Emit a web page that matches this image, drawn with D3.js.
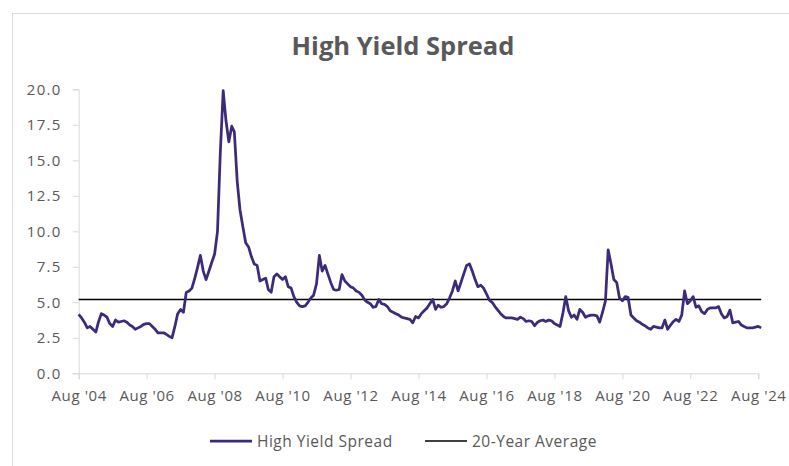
<!DOCTYPE html>
<html>
<head>
<meta charset="utf-8">
<script src="https://cdn.jsdelivr.net/npm/d3@7"></script>
<style>
  html, body { margin: 0; padding: 0; background: #fff; }
  svg { display: block; }
</style>
</head>
<body>
<svg id="chart" width="789" height="466"></svg>
<script>
// ---- DATA ----
const startMonth = "2004-08";   // first observation (monthly)
const spreadValues = [
  4.15, 3.9, 3.6, 3.2, 3.3, 3.1, 2.9, 3.6, 4.2, 4.1, 3.95, 3.5,
  3.3, 3.75, 3.6, 3.65, 3.7, 3.6, 3.4, 3.3, 3.1, 3.2, 3.3, 3.45,
  3.5, 3.5, 3.3, 3.1, 2.85, 2.85, 2.85, 2.75, 2.6, 2.5, 3.3, 4.2,
  4.5, 4.3, 5.7, 5.8, 6.0, 6.7, 7.5, 8.3, 7.2, 6.6, 7.2, 7.8,
  8.4, 10.0, 15.5, 19.9, 17.8, 16.3, 17.4, 17.0, 13.5, 11.5, 10.3, 9.2,
  8.9, 8.2, 7.7, 7.6, 6.5, 6.6, 6.7, 5.9, 5.7, 6.8, 7.0, 6.8,
  6.6, 6.8, 6.1, 6.0, 5.4, 5.0, 4.75, 4.7, 4.75, 5.0, 5.3, 5.5,
  6.3, 8.3, 7.2, 7.6, 7.0, 6.4, 5.9, 5.85, 5.9, 6.95, 6.5, 6.3,
  6.1, 6.0, 5.8, 5.7, 5.5, 5.15, 5.0, 4.9, 4.65, 4.7, 5.2, 4.9,
  4.85, 4.7, 4.4, 4.3, 4.2, 4.1, 3.95, 3.9, 3.85, 3.8, 3.56, 4.0,
  3.9, 4.2, 4.4, 4.6, 4.9, 5.2, 4.5, 4.8, 4.65, 4.7, 4.9, 5.3,
  5.8, 6.5, 5.8, 6.4, 7.0, 7.6, 7.7, 7.2, 6.6, 6.1, 6.2, 6.0,
  5.6, 5.15, 5.0, 4.7, 4.45, 4.2, 4.0, 3.9, 3.9, 3.9, 3.85, 3.8,
  3.95, 3.85, 3.65, 3.7, 3.65, 3.35, 3.6, 3.7, 3.75, 3.65, 3.75, 3.7,
  3.5, 3.4, 3.3, 4.25, 5.4, 4.4, 3.95, 4.1, 3.8, 4.5, 4.3, 3.95,
  4.05, 4.1, 4.1, 4.05, 3.6, 4.3, 5.1, 8.7, 7.7, 6.6, 6.4, 5.3,
  5.1, 5.4, 5.35, 4.1, 3.9, 3.7, 3.6, 3.45, 3.35, 3.2, 3.1, 3.3,
  3.25, 3.2, 3.2, 3.75, 3.1, 3.4, 3.65, 3.8, 3.65, 4.1, 5.8, 4.9,
  5.1, 5.4, 4.65, 4.75, 4.35, 4.2, 4.5, 4.6, 4.6, 4.6, 4.7, 4.2,
  3.9, 4.0, 4.45, 3.55, 3.6, 3.65, 3.4, 3.3, 3.2, 3.2, 3.2, 3.25,
  3.3, 3.2
];
const averageValue = 5.2;
const xTickLabels = ["Aug '04", "Aug '06", "Aug '08", "Aug '10", "Aug '12", "Aug '14",
                     "Aug '16", "Aug '18", "Aug '20", "Aug '22", "Aug '24"];
const yTickValues = [0, 2.5, 5, 7.5, 10, 12.5, 15, 17.5, 20];
const seriesNames = ["High Yield Spread", "20-Year Average"];
const chartTitle = "High Yield Spread";

// ---- BUILD ----
const parseMonth = d3.utcParse("%Y-%m");
const t0 = parseMonth(startMonth);
const data = spreadValues.map((v, i) => ({ date: d3.utcMonth.offset(t0, i), value: v }));
const xTickDates = xTickLabels.map((_, i) => d3.utcYear.offset(t0, i * 2));

const svg = d3.select("#chart");
const plotLeft = 78.7, plotRight = 758.3, plotTop = 89.3, plotBottom = 373.3;

const x = d3.scaleUtc().domain([xTickDates[0], xTickDates[xTickDates.length - 1]]).range([plotLeft, plotRight]);
const y = d3.scaleLinear().domain([0, 20]).range([plotBottom, plotTop]);

const textColor = "#595959";
const axisColor = "#d9d9d9";
const lineColor = "#3d2a78";
const fontFam = "'Open Sans', 'Noto Sans', sans-serif";

// frame
svg.append("rect").attr("x", 12.5).attr("y", 13.5).attr("width", 800).attr("height", 480)
  .attr("fill", "#fff").attr("stroke", axisColor).attr("stroke-width", 1);

// title
svg.append("text").attr("x", 403).attr("y", 55).attr("text-anchor", "middle")
  .attr("font-family", fontFam).attr("font-weight", 700).attr("font-size", 25.5)
  .attr("fill", textColor).text(chartTitle);

// y axis
const yAxis = d3.axisLeft(y).tickValues(yTickValues).tickFormat(d3.format(".1f")).tickSize(6).tickPadding(11);
const gy = svg.append("g").attr("transform", `translate(${plotLeft},0)`).call(yAxis);
gy.select(".domain").attr("stroke", axisColor);
gy.selectAll(".tick line").attr("stroke", axisColor);
gy.selectAll(".tick text").attr("fill", textColor).attr("font-family", fontFam)
  .attr("font-size", 15).attr("letter-spacing", 1.3);

// x axis
const xAxis = d3.axisBottom(x).tickValues(xTickDates).tickFormat((d, i) => xTickLabels[i]).tickSize(6).tickPadding(11);
const gx = svg.append("g").attr("transform", `translate(0,${plotBottom})`).call(xAxis);
gx.select(".domain").attr("stroke", axisColor);
gx.selectAll(".tick line").attr("stroke", axisColor);
gx.selectAll(".tick text").attr("fill", textColor).attr("font-family", fontFam)
  .attr("font-size", 15).attr("letter-spacing", 0.6);

// average line
const lastDate = data[data.length - 1].date;
svg.append("line")
  .attr("x1", x(xTickDates[0])).attr("x2", x(lastDate))
  .attr("y1", y(averageValue)).attr("y2", y(averageValue))
  .attr("stroke", "#000").attr("stroke-width", 1.5);

// spread line
const line = d3.line().x(d => x(d.date)).y(d => y(d.value));
svg.append("path").datum(data).attr("d", line)
  .attr("fill", "none").attr("stroke", lineColor).attr("stroke-width", 2.75)
  .attr("stroke-linejoin", "round");

// legend
const legend = svg.append("g").attr("font-family", fontFam).attr("font-size", 15.5)
  .attr("letter-spacing", 0.5).attr("fill", textColor);
const legendItems = [
  { name: seriesNames[0], x: 210, color: lineColor, w: 2.75 },
  { name: seriesNames[1], x: 425, color: "#000", w: 1.5 }
];
legendItems.forEach(it => {
  legend.append("line").attr("x1", it.x).attr("x2", it.x + 42).attr("y1", 441).attr("y2", 441)
    .attr("stroke", it.color).attr("stroke-width", it.w);
  legend.append("text").attr("x", it.x + 47).attr("y", 446.5).text(it.name);
});
</script>
</body>
</html>
